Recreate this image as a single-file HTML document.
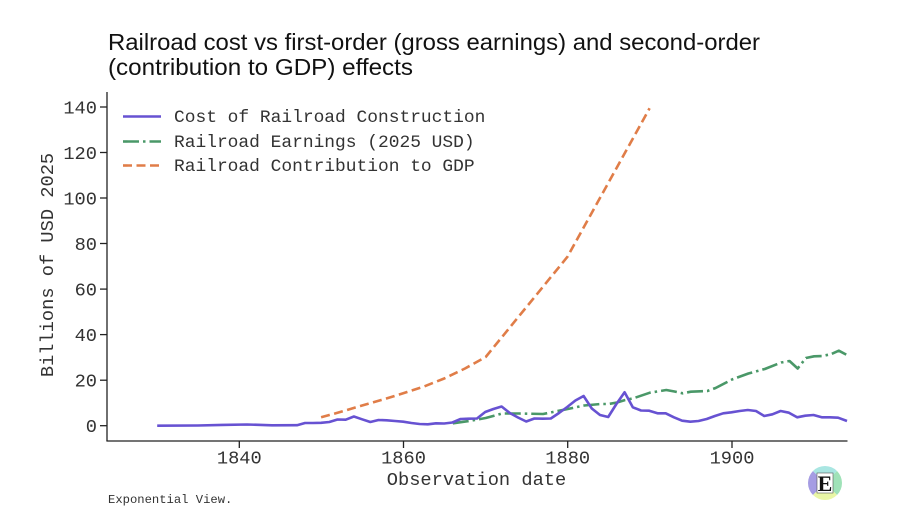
<!DOCTYPE html>
<html><head><meta charset="utf-8"><style>
html,body{margin:0;padding:0;background:#fff;}
svg{display:block;}
</style></head><body>
<svg width="898" height="521" viewBox="0 0 898 521" xmlns="http://www.w3.org/2000/svg">
<rect width="898" height="521" fill="#fff"/>
<!-- Title -->
<g font-family="Liberation Sans, sans-serif" font-size="23" fill="#111">
<text x="108" y="50" textLength="652" lengthAdjust="spacingAndGlyphs">Railroad cost vs first-order (gross earnings) and second-order</text>
<text x="108" y="75" textLength="305" lengthAdjust="spacingAndGlyphs">(contribution to GDP) effects</text>
</g>
<!-- Axes -->
<g stroke="#222" stroke-width="1.3" fill="none">
<line x1="107" y1="92" x2="107" y2="441"/>
<line x1="106.4" y1="441" x2="847.5" y2="441"/>
<!-- y ticks -->
<line x1="100" y1="425.7" x2="107" y2="425.7"/>
<line x1="100" y1="380.2" x2="107" y2="380.2"/>
<line x1="100" y1="334.6" x2="107" y2="334.6"/>
<line x1="100" y1="289.1" x2="107" y2="289.1"/>
<line x1="100" y1="243.5" x2="107" y2="243.5"/>
<line x1="100" y1="198.0" x2="107" y2="198.0"/>
<line x1="100" y1="152.5" x2="107" y2="152.5"/>
<line x1="100" y1="107.0" x2="107" y2="107.0"/>
<!-- x ticks -->
<line x1="239.3" y1="441" x2="239.3" y2="448"/>
<line x1="403.5" y1="441" x2="403.5" y2="448"/>
<line x1="567.7" y1="441" x2="567.7" y2="448"/>
<line x1="732" y1="441" x2="732" y2="448"/>
</g>
<g font-family="Liberation Mono, monospace" font-size="18.7" fill="#333" text-anchor="end">
<text x="97" y="432">0</text>
<text x="97" y="386.5">20</text>
<text x="97" y="341">40</text>
<text x="97" y="295.5">60</text>
<text x="97" y="250">80</text>
<text x="97" y="204.5">100</text>
<text x="97" y="159">120</text>
<text x="97" y="113.5">140</text>
</g>
<g font-family="Liberation Mono, monospace" font-size="18.7" fill="#333" text-anchor="middle">
<text x="239.3" y="463.5">1840</text>
<text x="403.5" y="463.5">1860</text>
<text x="567.7" y="463.5">1880</text>
<text x="732" y="463.5">1900</text>
<text x="476.5" y="485">Observation date</text>
<text transform="translate(53,265) rotate(-90)">Billions of USD 2025</text>
</g>
<!-- Series -->
<g fill="none" stroke-width="2.6" stroke-linejoin="round">
<polyline stroke="#e07d48" stroke-dasharray="9,4.5" points="321.1,417.3 341,411.8 362.1,405.5 383,399.5 403.2,393.3 424,386.5 444.2,378.5 465,368.5 485.7,357 567.5,256.7 649.6,108.3"/>
<polyline stroke="#4a9868" stroke-dasharray="16,4,2.5,4" points="452.8,423.3 469.2,421 485.7,418 502.1,413.5 518.5,413.5 543.1,414 567.7,409 584.2,405.5 600.6,404 608.8,404 617,402.5 625.2,400 633.4,398.3 649.9,392.7 666.3,390 674.5,391.5 682.7,393.3 690.9,391.7 707.4,391 715.6,388 732,379.5 748.4,373.5 764.8,369 781.3,362.5 789.5,361 797.7,368.5 805.9,358 814.1,356.3 822.3,356 830.6,354.3 838.8,350.7 847,355"/>
<polyline stroke="#6752d2" points="157.2,425.7 198,425.5 222,424.9 247,424.5 272,425.3 297,425.2 305,423 313,423 321.1,422.8 329.3,422 337.5,419.5 345.7,419.7 353.9,416.5 362.1,419.3 370.3,422 378.5,420 386.8,420.3 395,421 403.2,421.7 411.4,423 419.6,424 427.8,424.3 436,423.3 444.2,423.5 452.4,422.5 460.6,419 468.8,418.7 477,418.5 485.2,412 493.4,409 501.6,406.5 509.8,413 518,417.5 526.2,421.5 534.4,418.5 542.6,418.7 550.8,418.5 559,413 567.2,407 575.4,400.5 583.6,396 591.8,408.5 600,415 608.2,417 616.4,404 624.6,392.3 632.8,407.3 641,410.5 649.2,410.7 657.5,413.3 665.7,413.3 673.9,417.3 682.1,420.7 690.3,421.7 698.5,421 706.7,419 714.9,416 723.2,413.3 731.4,412.3 739.6,411 747.8,410 756,411 764.2,416 772.4,414.3 780.6,411 788.9,412.7 797.1,417.3 805.3,415.7 813.5,415 821.7,417.3 829.9,417.3 838.1,417.7 847,421"/>
</g>
<!-- Legend -->
<g stroke-width="2.6" fill="none">
<line x1="123" y1="116.5" x2="161" y2="116.5" stroke="#6752d2"/>
<line x1="123" y1="141.5" x2="161" y2="141.5" stroke="#4a9868" stroke-dasharray="16,4,2.5,4"/>
<line x1="123" y1="165.5" x2="161" y2="165.5" stroke="#e07d48" stroke-dasharray="9,4.5"/>
</g>
<g font-family="Liberation Mono, monospace" font-size="17.9" fill="#333">
<text x="174" y="122">Cost of Railroad Construction</text>
<text x="174" y="147">Railroad Earnings (2025 USD)</text>
<text x="174" y="171">Railroad Contribution to GDP</text>
</g>
<!-- Footer -->
<text x="108" y="503" font-family="Liberation Mono, monospace" font-size="12.2" fill="#333">Exponential View.</text>
<!-- Logo -->
<g transform="translate(825,483)">
<clipPath id="c"><circle r="17"/></clipPath>
<g clip-path="url(#c)">
<polygon points="0,0 -20,-20 -20,20" fill="#a59ce3"/>
<polygon points="0,0 -20,-20 20,-20" fill="#a9e6e2"/>
<polygon points="0,0 20,-20 20,20" fill="#9fe2b8"/>
<polygon points="0,0 -20,20 20,20" fill="#e9f6a6"/>
</g>
<rect x="-8" y="-10" width="16" height="20" fill="#fff" stroke="#555" stroke-width="0.6"/>
<text x="0" y="8" text-anchor="middle" font-family="Liberation Serif, serif" font-weight="bold" font-size="22" fill="#111">E</text>
</g>
</svg>
</body></html>
